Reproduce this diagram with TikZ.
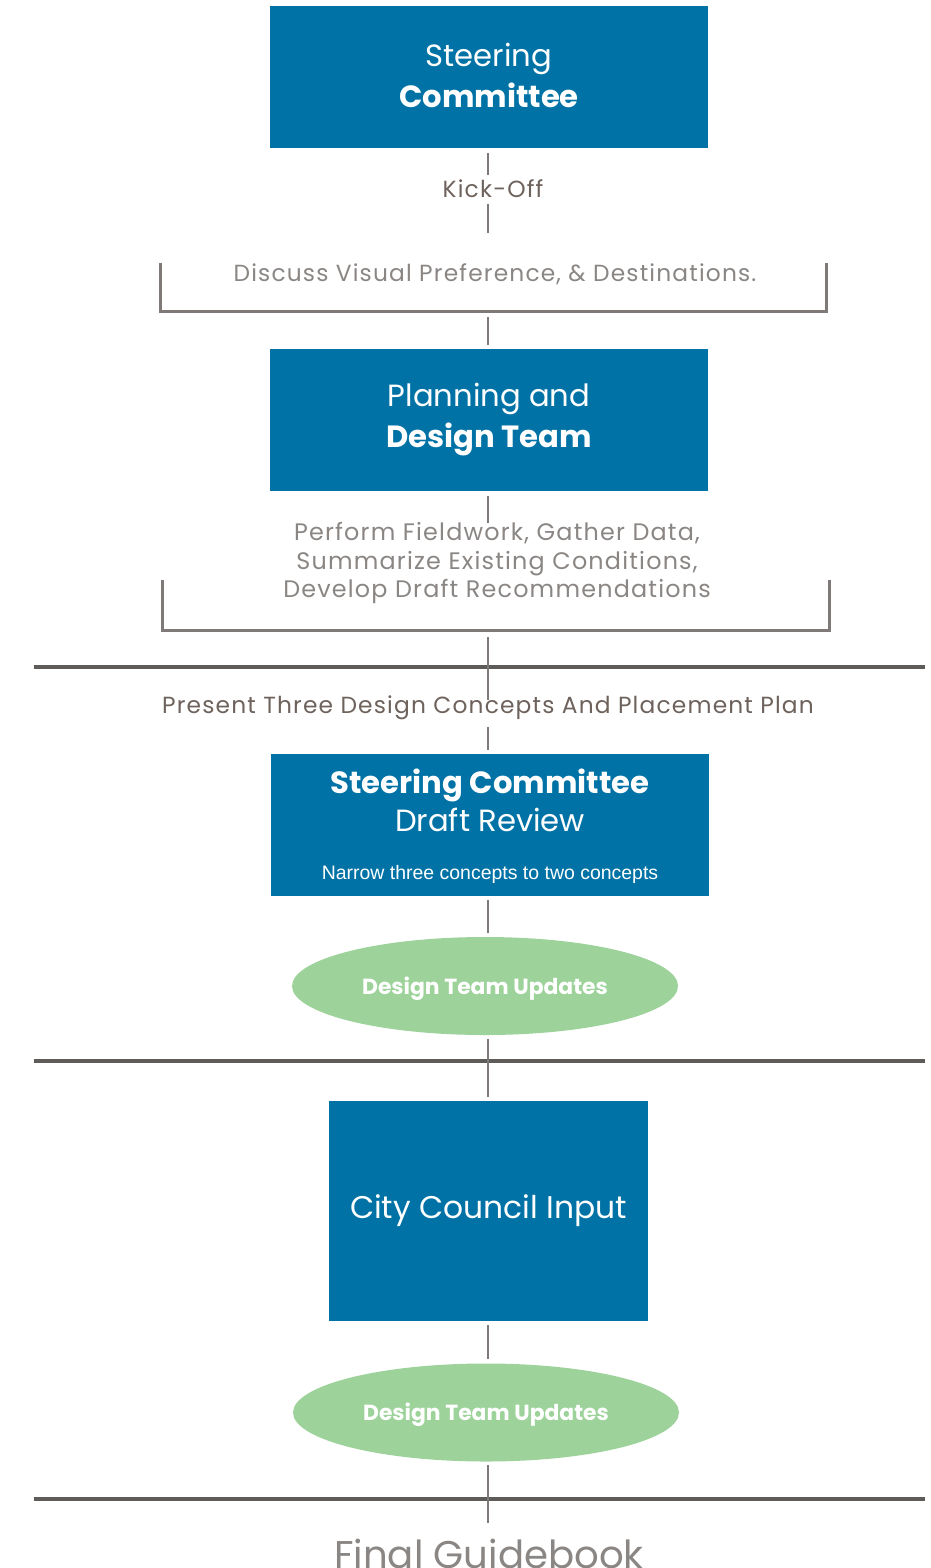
\documentclass[tikz,border=0pt]{standalone}
\usepackage{fontspec}
\setmainfont{Poppins}
\newfontfamily\spacedfont[LetterSpace=5]{Poppins}
\newfontfamily\arialfont{Liberation Sans}
\usetikzlibrary{shapes.geometric}
\definecolor{boxblue}{HTML}{0072A5}
\definecolor{updgreen}{HTML}{9DD39B}
\definecolor{linegray}{HTML}{7F7A77}
\definecolor{sepgray}{HTML}{5E5B59}
\definecolor{txtgray}{HTML}{8A8684}
\definecolor{txtbrown}{HTML}{6E625C}
\tikzset{
  bluebox/.style={fill=boxblue, text=white, inner sep=0pt, align=center,
    minimum width=438*0.75pt, minimum height=142*0.75pt,
    font=\fontsize{23}{30.75}\selectfont},
  updates/.style={ellipse, fill=updgreen, text=white, inner sep=0pt,
    minimum width=386*0.75pt, minimum height=98*0.75pt,
    text height=12pt, text depth=0pt,
    font=\fontsize{16.4}{20}\selectfont\bfseries},
  steptext/.style={text=txtgray, inner sep=0pt, align=center,
    font=\spacedfont\fontsize{17.5}{21.4}\selectfont},
  phasetext/.style={text=txtbrown, inner sep=0pt, align=center,
    font=\spacedfont\fontsize{17.5}{21.4}\selectfont},
  conn/.style={draw=linegray, line width=2.2pt},
  bracketline/.style={draw=linegray, line width=1.9pt},
  sepline/.style={draw=sepgray, line width=2.3pt},
  frame/.style={inner sep=0pt, draw=none},
}
\begin{document}
\begin{tikzpicture}[x=0.75pt,y=-0.75pt]
\useasboundingbox (0,0) rectangle (931,1568);

% phase separators
\draw[sepline] (34,667) -- (925,667);
\draw[sepline] (34,1061) -- (925,1061);
\draw[sepline] (34,1499) -- (925,1499);

% steering committee kick-off
\node[bluebox] (sc) at (489,77) {};
\node[text=white, inner sep=0pt, align=center, font=\fontsize{23}{30.75}\selectfont] (sctitle) at (489,75)
  {Steering\\\textbf{Committee}};
\node[phasetext] (kick) at (493,189) {Kick-Off};
\coordinate (k1) at (488,175);
\coordinate (k2) at (488,204);
\coordinate (k3) at (488,233);
\draw[conn, shorten <=3.5pt] (sc.south -| k1) -- (k1);
\draw[conn] (k2) -- (k3);

% visual preference bracket
\node[frame, minimum width=665*0.75pt, minimum height=48*0.75pt] (br1) at (493.5,287) {};
\node[steptext] (disc) at (495,274) {Discuss Visual Preference, \& Destinations.};
\draw[bracketline] (br1.north west) -- (br1.south west) -- (br1.south east) -- (br1.north east);

% planning and design team
\node[bluebox] (pd) at (489,420) {Planning and\\\textbf{Design Team}};
\draw[conn, shorten <=4.5pt, shorten >=3pt] (br1.south -| k1) -- (pd.north -| k1);
\coordinate (p1) at (488,523);
\draw[conn, shorten <=3.5pt] (pd.south -| p1) -- (p1);
\node[steptext, font=\spacedfont\fontsize{17.9}{21.4}\selectfont] (perf) at (497,563)
  {Perform Fieldwork, Gather Data,\\Summarize Existing Conditions,\\Develop Draft Recommendations};
\node[frame, minimum width=666*0.75pt, minimum height=50*0.75pt] (br2) at (496,605) {};
\draw[bracketline] (br2.north west) -- (br2.south west) -- (br2.south east) -- (br2.north east);

% draft concepts
\coordinate (c1) at (488,700);
\coordinate (c2) at (488,727);
\node[phasetext] (present) at (488,708) {Present Three Design Concepts And Placement Plan};
\draw[conn, shorten <=5pt] (br2.south -| c1) -- (c1);
\node[bluebox] (sdr) at (490,825) {};
\node[text=white, align=center, inner sep=0pt, font=\fontsize{23}{28.5}\selectfont] (sdrtitle) at (490,800)
  {\textbf{Steering Committee}\\Draft Review};
\node[text=white, inner sep=0pt, font=\arialfont\fontsize{14.6}{17}\selectfont] (sdrnote) at (490,874)
  {Narrow three concepts to two concepts};
\draw[conn, shorten >=3pt] (c2) -- (sdr.north -| c2);

\node[updates] (upd1) at (485,986) {Design Team Updates};
\draw[conn, shorten <=2.5pt, shorten >=3pt] (sdr.south -| c1) -- (upd1.north -| c1);

% city council
\node[bluebox, minimum width=319*0.75pt, minimum height=220*0.75pt] (cci) at (488.5,1211)
  {\fontsize{23.5}{28}\selectfont City Council Input};
\draw[conn, shorten <=2.5pt, shorten >=2.5pt] (upd1.south -| c1) -- (cci.north -| c1);

\node[updates] (upd2) at (486,1412.5) {Design Team Updates};
\draw[conn, shorten <=3pt, shorten >=3pt] (cci.south -| c1) -- (upd2.north -| c1);

% final product
\coordinate (f1) at (488,1523);
\draw[conn, shorten <=2.5pt] (upd2.south -| f1) -- (f1);
\node[text=txtgray, inner sep=0pt, anchor=base, font=\fontsize{29}{34}\selectfont] (final) at (489,1568) {Final Guidebook};
\end{tikzpicture}
\end{document}
